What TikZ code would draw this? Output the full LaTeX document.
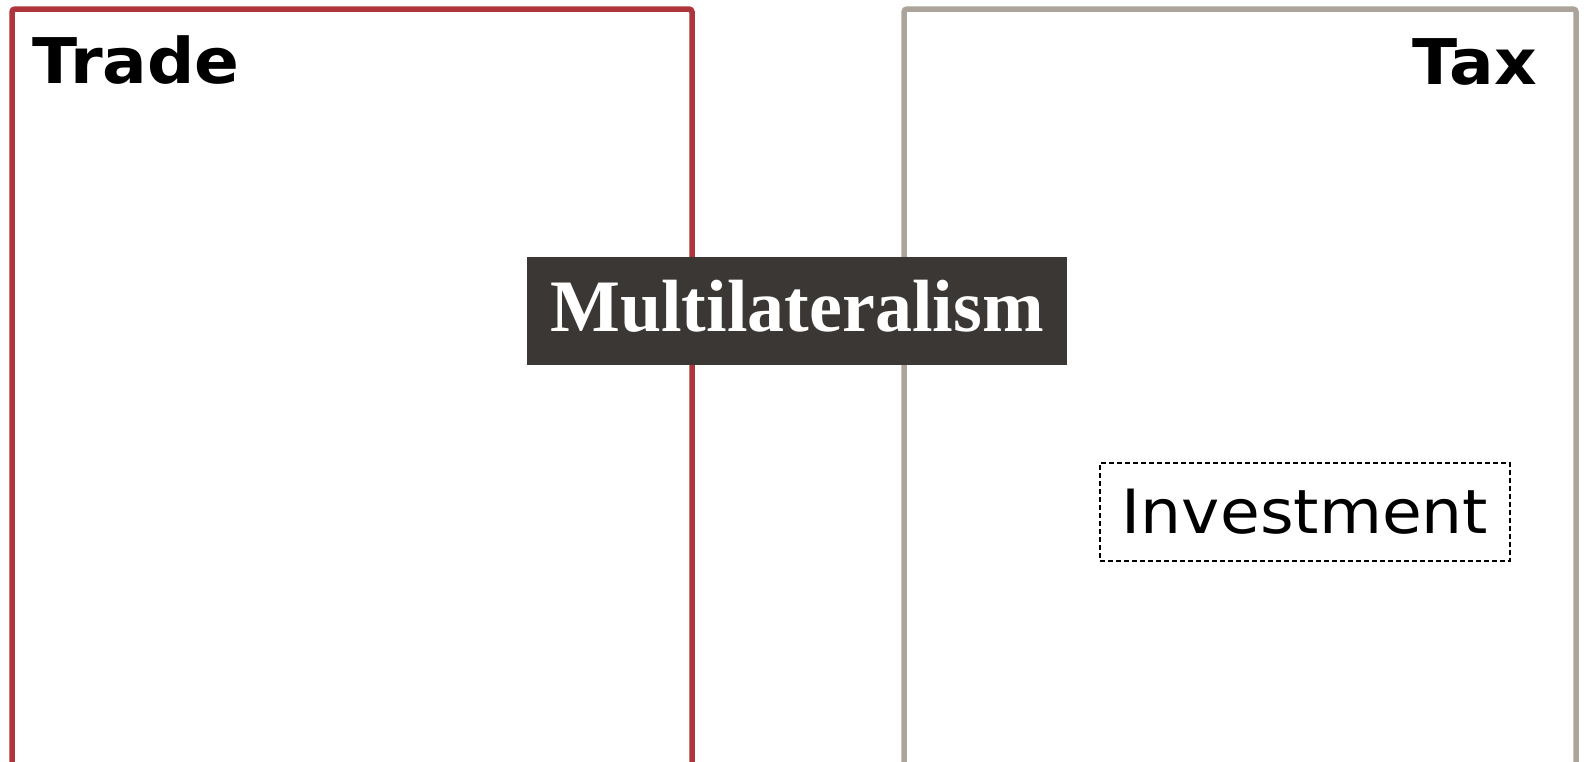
\documentclass[tikz,border=0pt]{standalone}
\usepackage{fontspec}
\setmainfont{DejaVu Sans}
\newfontfamily\titlefont[FakeStretch=1.05]{DejaVu Sans}
\newfontfamily\investfont[FakeStretch=1.06]{DejaVu Sans}
\newfontfamily\serifbold{Liberation Serif}
\definecolor{tradered}{RGB}{175,53,60}
\definecolor{taxgray}{RGB}{172,164,155}
\definecolor{multidark}{RGB}{59,55,52}
\begin{document}
\begin{tikzpicture}[x=1pt,y=-1pt,
  areabox/.style={line width=5.5pt, rounded corners=3pt},
  title/.style={inner sep=0pt, font=\fontsize{63}{70}\titlefont\bfseries},
  centerbox/.style={fill=multidark, text=white, inner sep=0pt, minimum width=540pt, minimum height=108pt, text height=50pt, text depth=10pt, font=\fontsize{74}{80}\serifbold\bfseries},
  dashbox/.style={draw, dash pattern=on 5pt off 3pt, line width=1.2pt, inner sep=0pt, minimum width=410pt, minimum height=98pt, font=\fontsize{61}{70}\investfont}]
\useasboundingbox (0,0) rectangle (1584,761);
\fill[white] (0,0) rectangle (1584,761);
\draw[areabox, draw=tradered] (12,800) -- (12,9) -- (692,9) -- (692,800);
\draw[areabox, draw=taxgray] (904,800) -- (904,9) -- (1576,9) -- (1576,800);
\node[title, anchor=base west] (trade) at (32,83) {Trade};
\node[title, anchor=base east] (tax) at (1537,84) {Tax};
\node[centerbox] (multi) at (797,311) {Multilateralism};
\node[dashbox] (invest) at (1305,512) {Investment};
\end{tikzpicture}
\end{document}
